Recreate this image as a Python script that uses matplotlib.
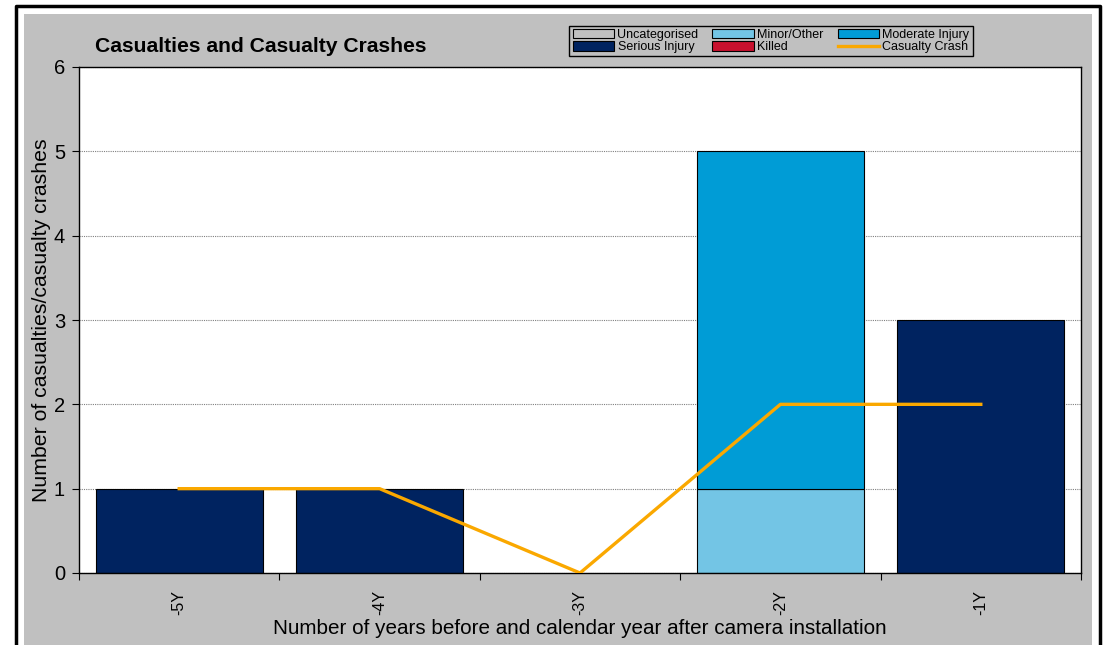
import matplotlib
matplotlib.use("Agg")
import matplotlib.pyplot as plt
from matplotlib.patches import Rectangle, Patch
from matplotlib.lines import Line2D
import numpy as np

plt.rcParams['font.family'] = ['Liberation Sans', 'DejaVu Sans']

categories = ['-5Y', '-4Y', '-3Y', '-2Y', '-1Y']
uncategorised = [0, 0, 0, 0, 0]
minor_other = [0, 0, 0, 1, 0]
moderate = [0, 0, 0, 4, 0]
serious = [1, 1, 0, 0, 3]
killed = [0, 0, 0, 0, 0]
casualty_crash = [1, 1, 0, 2, 2]

colors = {
    'Uncategorised': '#C0C0C0',
    'Minor/Other': '#73C5E5',
    'Moderate Injury': '#009CD6',
    'Serious Injury': '#002360',
    'Killed': '#C8102E',
}
line_color = '#FAA800'

W, H = 1104, 645
fig = plt.figure(figsize=(W / 100, H / 100), dpi=100)
fig.patch.set_facecolor('white')

# gray chart area
fig.add_artist(Rectangle((24 / W, 0), (1092 - 24) / W, (H - 14) / H,
                         transform=fig.transFigure, facecolor='#C0C0C0',
                         edgecolor='none', zorder=0))
# black outer frame (left, top, right)
fig.add_artist(Line2D([16 / W, 16 / W, 1100 / W, 1100 / W],
                      [0, (H - 6) / H, (H - 6) / H, 0],
                      transform=fig.transFigure, color='black', lw=2.5, zorder=1))

ax = fig.add_axes([79 / W, (H - 573) / H, (1081 - 79) / W, (573 - 67) / H])
ax.set_facecolor('white')
x = np.arange(len(categories))
bw = 0.835

series = [('Uncategorised', uncategorised), ('Minor/Other', minor_other),
          ('Moderate Injury', moderate), ('Serious Injury', serious),
          ('Killed', killed)]
bottom = np.zeros(len(categories))
for name, vals in series:
    vals = np.array(vals, dtype=float)
    mask = vals > 0
    ax.bar(x[mask], vals[mask], bw, bottom=bottom[mask], color=colors[name],
           edgecolor='black', linewidth=0.8, zorder=2)
    bottom += vals

ax.plot(x, casualty_crash, color=line_color, lw=2.4, zorder=3)

ax.set_xlim(-0.5, len(categories) - 0.5)
ax.set_ylim(0, 6)
ax.set_yticks(range(0, 7))
ax.yaxis.grid(True, linestyle=(0, (1, 1)), color='#808080', lw=0.8, zorder=1)
ax.set_axisbelow(True)
ax.set_xticks(np.arange(-0.5, len(categories), 1.0))
ax.set_xticklabels([])
ax.set_xticks(x, minor=True)
ax.set_xticklabels(categories, minor=True, rotation=90, fontsize=11.5)
ax.tick_params(axis='x', which='minor', length=0, pad=12)
ax.tick_params(axis='x', which='major', length=5, direction='out')
ax.tick_params(axis='y', length=5, direction='out', labelsize=14.5, pad=5)
for s in ax.spines.values():
    s.set_color('black')
    s.set_linewidth(1.0)

ax.set_ylabel('Number of casualties/casualty crashes', fontsize=15.3, labelpad=2)
fig.text(580 / W, 1 - 628 / H,
         'Number of years before and calendar year after camera installation',
         fontsize=14.9, ha='center', va='center')

fig.text(95 / W, 1 - 46 / H, 'Casualties and Casualty Crashes', fontsize=15.2,
         fontweight='bold', va='center', ha='left')

handles = [
    Patch(facecolor=colors['Uncategorised'], edgecolor='black', lw=0.8),
    Patch(facecolor=colors['Serious Injury'], edgecolor='black', lw=0.8),
    Patch(facecolor=colors['Minor/Other'], edgecolor='black', lw=0.8),
    Patch(facecolor=colors['Killed'], edgecolor='black', lw=0.8),
    Patch(facecolor=colors['Moderate Injury'], edgecolor='black', lw=0.8),
    Line2D([0], [0], color=line_color, lw=2.4),
]
labels = ['Uncategorised', 'Serious Injury', 'Minor/Other', 'Killed',
          'Moderate Injury', 'Casualty Crash']
leg = fig.legend(handles, labels, ncol=3, loc='center',
                 bbox_to_anchor=(771 / W, 1 - 41 / H), fontsize=9,
                 frameon=True, fancybox=False, edgecolor='black',
                 facecolor='#C0C0C0', framealpha=1, borderpad=0.25,
                 labelspacing=0.05, handlelength=3.3, handleheight=0.75,
                 handletextpad=0.3, columnspacing=1.1)
leg.get_frame().set_linewidth(1.0)

fig.savefig('out.png', dpi=100)
